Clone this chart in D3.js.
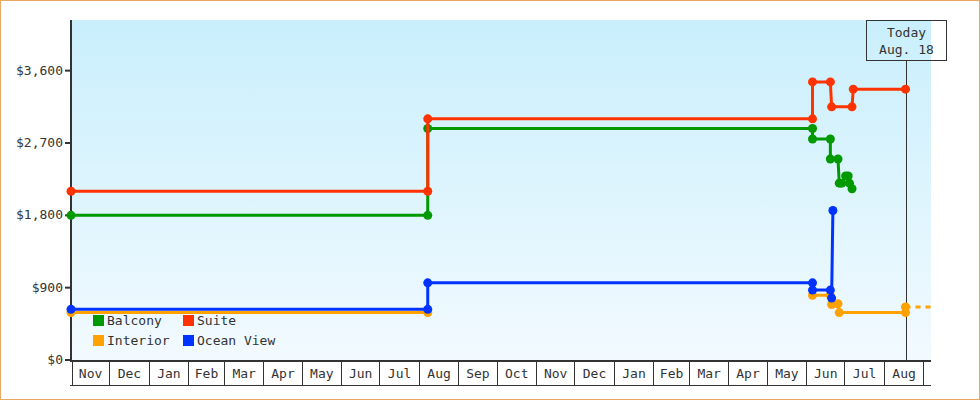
<!DOCTYPE html>
<html lang="en">

<head>
    <meta charset="UTF-8">
    <title>Cabin Prices</title>
    <script src="https://d3js.org/d3.v7.min.js"></script>
    <style>
        body {
            margin: 0;
            background: #ffffff;
        }

        .chart text {
            font-family: "DejaVu Sans Mono", monospace;
            font-size: 13px;
            fill: #333;
        }
    </style>
</head>

<body>
    <svg class="chart"></svg>

    <script>
        // price history per cabin type: [date, price], null price = no quote
        const balcony = [
            ["2013-11-01", 1800], ["2014-08-08", 1800], ["2014-08-08", 2880],
            ["2015-06-06", 2880], ["2015-06-06", 2750], ["2015-06-20", 2750],
            ["2015-06-20", 2500], ["2015-06-26", 2500], ["2015-06-27", 2200],
            ["2015-06-29", 2200], ["2015-07-02", 2290], ["2015-07-04", 2290],
            ["2015-07-05", 2200], ["2015-07-07", 2130]
        ];
        const suite = [
            ["2013-11-01", 2100], ["2014-08-08", 2100], ["2014-08-08", 3000],
            ["2015-06-06", 3000], ["2015-06-06", 3460], ["2015-06-20", 3460],
            ["2015-06-21", 3150], ["2015-07-07", 3150], ["2015-07-08", 3370],
            ["2015-08-18", 3370]
        ];
        const interior = [
            ["2013-11-01", 590], ["2014-08-08", 590], ["2014-08-09", null],
            ["2015-06-06", 805], ["2015-06-20", 805], ["2015-06-21", 690],
            ["2015-06-26", 700], ["2015-06-27", 590], ["2015-08-18", 590]
        ];
        const interiorForecast = [["2015-08-18", 660], ["2015-09-30", 660]];
        const oceanView = [
            ["2013-11-01", 630], ["2014-08-08", 630], ["2014-08-08", 960],
            ["2015-06-06", 960], ["2015-06-06", 870], ["2015-06-20", 870],
            ["2015-06-21", 770], ["2015-06-22", 1860]
        ];

        const seriesNames = ["Balcony", "Suite", "Interior", "Ocean View"];
        const yTicks = [0, 900, 1800, 2700, 3600];
        const today = "2015-08-18";
        const todayLabel = ["Today", "Aug. 18"];
        const xStart = "2013-11-01";
        const xEnd = "2015-09-07";
        const yMax = 4230;

        const colors = {
            "Balcony": "#009900",
            "Suite": "#ff3300",
            "Interior": "#ffa200",
            "Ocean View": "#0033ff"
        };

        const parseDate = d3.timeParse("%Y-%m-%d");
        const width = 980, height = 400;
        const plotLeft = 72, plotRight = 931, plotTop = 20, plotBottom = 360;

        const x = d3.scaleTime()
            .domain([parseDate(xStart), parseDate(xEnd)])
            .range([plotLeft - 1, plotRight]);

        const y = d3.scaleLinear()
            .domain([0, yMax])
            .range([plotBottom, plotTop]);

        const svg = d3.select('.chart')
            .attr('width', width)
            .attr('height', height);

        const defs = svg.append('defs');
        const grad = defs.append('linearGradient')
            .attr('id', 'bg')
            .attr('x1', 0).attr('y1', 0).attr('x2', 0).attr('y2', 1);
        grad.append('stop').attr('offset', '0%').attr('stop-color', '#c9effc');
        grad.append('stop').attr('offset', '100%').attr('stop-color', '#f2faff');

        defs.append('clipPath')
            .attr('id', 'plot-clip')
            .append('rect')
            .attr('x', plotLeft - 6).attr('y', plotTop)
            .attr('width', plotRight - plotLeft + 6).attr('height', plotBottom - plotTop);

        // outer frame
        svg.append('rect')
            .attr('x', 0.5).attr('y', 0.5)
            .attr('width', width - 1).attr('height', height - 1)
            .attr('fill', '#fff')
            .attr('stroke', '#e9a965');

        svg.append('rect')
            .attr('x', plotLeft).attr('y', plotTop)
            .attr('width', plotRight - plotLeft).attr('height', plotBottom - plotTop)
            .attr('fill', 'url(#bg)');

        // y axis
        const yAxis = svg.append('g');
        yAxis.append('line')
            .attr('x1', plotLeft - 1).attr('x2', plotLeft - 1)
            .attr('y1', plotTop).attr('y2', plotBottom + 1)
            .attr('stroke', '#333').attr('stroke-width', 2);

        const yTick = yAxis.selectAll('.ytick')
            .data(yTicks)
            .enter()
            .append('g')
            .attr('class', 'ytick');

        yTick.append('line')
            .attr('x1', plotLeft - 7).attr('x2', plotLeft)
            .attr('y1', d => y(d)).attr('y2', d => y(d))
            .attr('stroke', '#333').attr('stroke-width', 2);

        yTick.append('text')
            .attr('x', plotLeft - 9)
            .attr('y', d => y(d) + 4)
            .attr('text-anchor', 'end')
            .text(d => '$' + d3.format(',')(d));

        // x axis: one box per month
        const xAxis = svg.append('g');
        xAxis.append('line')
            .attr('x1', plotLeft - 2).attr('x2', plotRight)
            .attr('y1', plotBottom + 1).attr('y2', plotBottom + 1)
            .attr('stroke', '#333').attr('stroke-width', 2);
        xAxis.append('line')
            .attr('x1', plotLeft - 2).attr('x2', plotRight)
            .attr('y1', plotBottom + 25.5).attr('y2', plotBottom + 25.5)
            .attr('stroke', '#333').attr('stroke-width', 1);

        const months = d3.timeMonth.range(parseDate(xStart), parseDate(xEnd));

        xAxis.selectAll('.mline')
            .data(months)
            .enter()
            .append('line')
            .attr('class', 'mline')
            .attr('x1', d => Math.max(plotLeft, Math.round(x(d))) + 0.5)
            .attr('x2', d => Math.max(plotLeft, Math.round(x(d))) + 0.5)
            .attr('y1', plotBottom)
            .attr('y2', plotBottom + 25)
            .attr('stroke', '#333');

        xAxis.selectAll('.mlabel')
            .data(months.filter(d => d3.timeMonth.offset(d, 1) <= parseDate(xEnd)))
            .enter()
            .append('text')
            .attr('class', 'mlabel')
            .attr('x', d => (x(d) + x(d3.timeMonth.offset(d, 1))) / 2 + 0.5)
            .attr('y', plotBottom + 18)
            .attr('text-anchor', 'middle')
            .text(d => d3.timeFormat('%b')(d));

        // today marker
        const tx = Math.round(x(parseDate(today))) + 0.5;
        svg.append('line')
            .attr('x1', tx).attr('x2', tx)
            .attr('y1', plotTop + 40).attr('y2', plotBottom)
            .attr('stroke', '#333');
        svg.append('rect')
            .attr('x', tx - 40).attr('y', plotTop + 0.5)
            .attr('width', 80).attr('height', 40)
            .attr('fill', 'none')
            .attr('stroke', '#333');
        svg.selectAll('.today-text')
            .data(todayLabel)
            .enter()
            .append('text')
            .attr('class', 'today-text')
            .attr('x', tx)
            .attr('y', (d, i) => plotTop + 17 + i * 17)
            .attr('text-anchor', 'middle')
            .text(d => d);

        // price lines
        const line = d3.line()
            .defined(d => d[1] !== null)
            .x(d => x(parseDate(d[0])))
            .y(d => y(d[1]));

        const plot = svg.append('g').attr('clip-path', 'url(#plot-clip)');

        const drawOrder = [
            ["Interior", interior], ["Ocean View", oceanView],
            ["Balcony", balcony], ["Suite", suite]
        ];

        plot.append('path')
            .attr('d', line(interiorForecast))
            .attr('fill', 'none')
            .attr('stroke', colors["Interior"])
            .attr('stroke-width', 3)
            .attr('stroke-dasharray', '5,5');

        drawOrder.forEach(function ([name, data]) {
            plot.append('path')
                .attr('d', line(data))
                .attr('fill', 'none')
                .attr('stroke', colors[name])
                .attr('stroke-width', 3);

            plot.selectAll(null)
                .data(data.filter(d => d[1] !== null))
                .enter()
                .append('circle')
                .attr('cx', d => x(parseDate(d[0])))
                .attr('cy', d => y(d[1]))
                .attr('r', 4.5)
                .attr('fill', colors[name]);
        });

        plot.append('circle')
            .attr('cx', x(parseDate(interiorForecast[0][0])))
            .attr('cy', y(interiorForecast[0][1]))
            .attr('r', 4.5)
            .attr('fill', colors["Interior"]);

        // legend
        const legend = svg.append('g')
            .selectAll('.legend-item')
            .data(seriesNames)
            .enter()
            .append('g')
            .attr('class', 'legend-item')
            .attr('transform', (d, i) => `translate(${93 + (i % 2) * 90},${315 + Math.floor(i / 2) * 20})`);

        legend.append('rect')
            .attr('width', 11)
            .attr('height', 11)
            .attr('fill', d => colors[d]);

        legend.append('text')
            .attr('x', 14)
            .attr('y', 10)
            .text(d => d);
    </script>
</body>

</html>
